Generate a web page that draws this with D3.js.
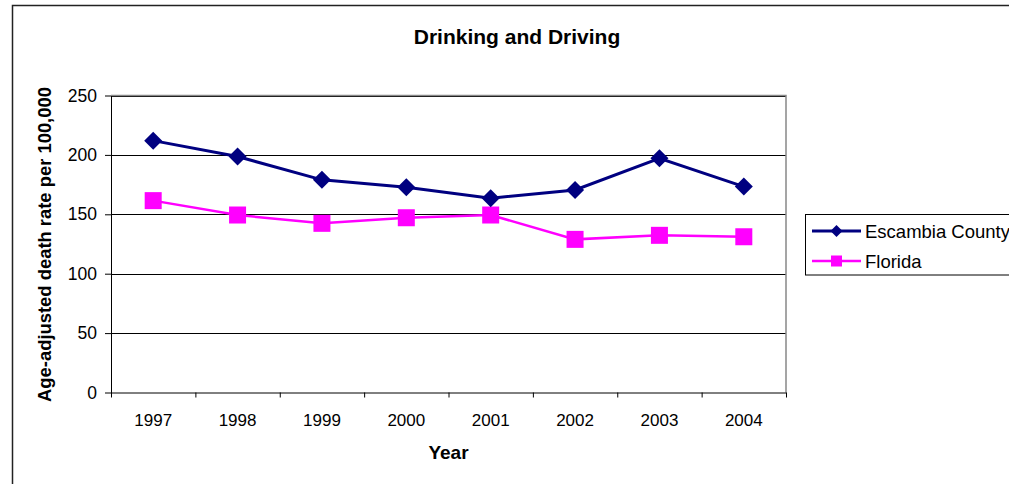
<!DOCTYPE html>
<html><head><meta charset="utf-8">
<script src="https://cdn.jsdelivr.net/npm/d3@7"></script>
<style>body{margin:0;background:#fff}svg{display:block}text{font-family:"Liberation Sans",Arial,sans-serif}</style>
</head><body>
<svg id="c" width="1009" height="484"></svg>
<script>
const years = ["1997","1998","1999","2000","2001","2002","2003","2004"];
const escambia = [212, 198.6, 179, 172.8, 163.5, 170.5, 197.2, 173.3];
const florida = [161.5, 149.4, 142.4, 147.1, 149.4, 128.9, 132.3, 131.1];
const yTicks = [0, 50, 100, 150, 200, 250];
const seriesNames = ["Escambia County", "Florida"];
const colors = ["#000080", "#FF00FF"];

const svg = d3.select("#c");
const L = 111, R = 786, T = 95.5, B = 392.5;
const x = d3.scaleBand().domain(years).range([L, R]).padding(0);
const xl = d3.scaleLinear().domain([0, years.length]).range([L, R]);
const y = d3.scaleLinear().domain([0, 250]).range([B, T]);

// outer chart border
svg.append("rect").attr("x", 12.5).attr("y", 5.5).attr("width", 1100).attr("height", 600)
  .attr("fill", "#fff").attr("stroke", "#222").attr("stroke-width", 1.5);

// title
svg.append("text").attr("x", 517).attr("y", 44).attr("text-anchor", "middle")
  .attr("font-size", 21).attr("font-weight", "bold").text("Drinking and Driving");

// gridlines
svg.append("g").selectAll("line").data(yTicks.filter(d => d > 0)).join("line")
  .attr("x1", L).attr("x2", R).attr("y1", d => Math.round(y(d)) + 0.5).attr("y2", d => Math.round(y(d)) + 0.5)
  .attr("stroke", "#000").attr("stroke-width", 1);

// plot border (top/right gray)
svg.append("path").attr("d", `M${L},${T}H${R}V${B}`).attr("fill", "none")
  .attr("stroke", "#888").attr("stroke-width", 1.5);

// y axis
const ya = svg.append("g").attr("transform", `translate(${L},0)`)
  .call(d3.axisLeft(y).tickValues(yTicks).tickSize(6).tickPadding(8).tickSizeOuter(0));
ya.selectAll("text").attr("font-size", 17.5).attr("font-family", "Liberation Sans, Arial, sans-serif").attr("fill", "#000");
ya.selectAll("line,path").attr("stroke", "#000");

// x axis tick marks at boundaries
const xt = svg.append("g").attr("transform", `translate(0,${B})`)
  .call(d3.axisBottom(xl).tickValues(d3.range(years.length + 1)).tickSize(5).tickFormat("").tickSizeOuter(0));
xt.selectAll("line,path").attr("stroke", "#000");
// x labels
const xa = svg.append("g").attr("transform", `translate(0,${B})`)
  .call(d3.axisBottom(x).tickSize(0).tickPadding(21));
xa.select("path").remove();
xa.selectAll("text").attr("font-size", 17).attr("font-family", "Liberation Sans, Arial, sans-serif").attr("fill", "#000");

// axis titles
svg.append("text").attr("x", (L + R) / 2).attr("y", 459).attr("text-anchor", "middle")
  .attr("font-size", 19).attr("font-weight", "bold").text("Year");
svg.append("text").attr("transform", `translate(51,244.5) rotate(-90)`).attr("text-anchor", "middle")
  .attr("font-size", 18.4).attr("font-weight", "bold").text("Age-adjusted death rate per 100,000");

const cx = (d, i) => x(years[i]) + x.bandwidth() / 2;
const line = d3.line().x((d, i) => cx(d, i)).y(d => y(d));

// Florida
svg.append("path").datum(florida).attr("d", line).attr("fill", "none")
  .attr("stroke", colors[1]).attr("stroke-width", 2.5);
svg.append("g").selectAll("rect").data(florida).join("rect")
  .attr("x", (d, i) => cx(d, i) - 8.5).attr("y", d => y(d) - 8.5)
  .attr("width", 17).attr("height", 17).attr("fill", colors[1]);

// Escambia
svg.append("path").datum(escambia).attr("d", line).attr("fill", "none")
  .attr("stroke", colors[0]).attr("stroke-width", 3);
const diamond = (s) => `M0,${-s}L${s},0L0,${s}L${-s},0Z`;
svg.append("g").selectAll("path").data(escambia).join("path")
  .attr("transform", (d, i) => `translate(${cx(d, i)},${y(d)})`)
  .attr("d", diamond(9)).attr("fill", colors[0]);

// legend
const lg = svg.append("g");
lg.append("rect").attr("x", 805.5).attr("y", 214.5).attr("width", 300).attr("height", 60.5)
  .attr("fill", "#fff").attr("stroke", "#000").attr("stroke-width", 1);
const rows = [231, 261];
seriesNames.forEach((n, i) => {
  lg.append("line").attr("x1", 812).attr("x2", 861).attr("y1", rows[i]).attr("y2", rows[i])
    .attr("stroke", colors[i]).attr("stroke-width", i === 0 ? 3 : 2.5);
  if (i === 0) {
    lg.append("path").attr("transform", `translate(836.5,${rows[i]})`).attr("d", diamond(6)).attr("fill", colors[i]);
  } else {
    lg.append("rect").attr("x", 831).attr("y", rows[i] - 5.5).attr("width", 11).attr("height", 11).attr("fill", colors[i]);
  }
  lg.append("text").attr("x", 865).attr("y", rows[i] + 6.5).attr("font-size", 18.5).text(n);
});
</script>
</body></html>
